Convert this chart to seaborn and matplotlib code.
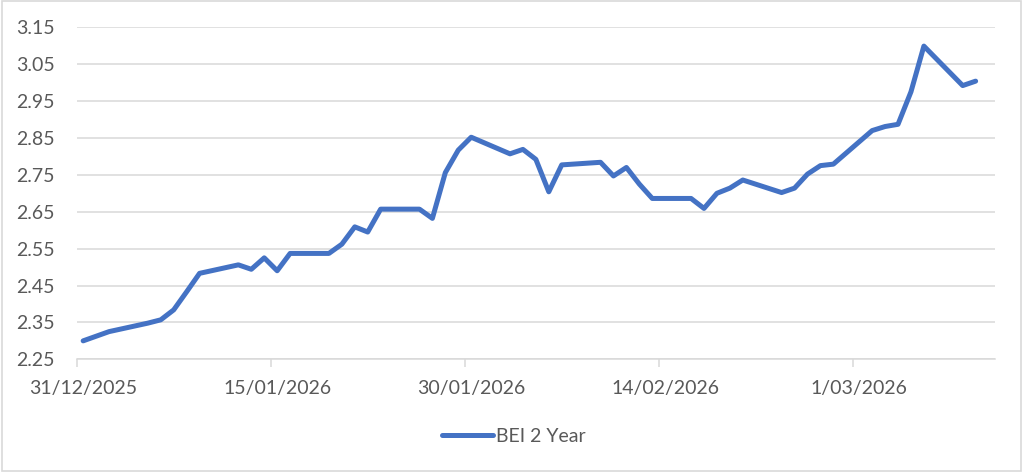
import pandas as pd
import seaborn as sns
import matplotlib.pyplot as plt
import matplotlib.dates as mdates
from matplotlib.patches import Rectangle

# BEI 2 Year
dates = [
    "2025-12-31", "2026-01-02", "2026-01-05", "2026-01-06", "2026-01-07",
    "2026-01-08", "2026-01-09", "2026-01-12", "2026-01-13", "2026-01-14",
    "2026-01-15", "2026-01-16", "2026-01-19", "2026-01-20", "2026-01-21",
    "2026-01-22", "2026-01-23", "2026-01-26", "2026-01-27", "2026-01-28",
    "2026-01-29", "2026-01-30", "2026-02-02", "2026-02-03", "2026-02-04",
    "2026-02-05", "2026-02-06", "2026-02-09", "2026-02-10", "2026-02-11",
    "2026-02-12", "2026-02-13", "2026-02-16", "2026-02-17", "2026-02-18",
    "2026-02-19", "2026-02-20", "2026-02-23", "2026-02-24", "2026-02-25",
    "2026-02-26", "2026-02-27", "2026-03-02", "2026-03-03", "2026-03-04",
    "2026-03-05", "2026-03-06", "2026-03-09", "2026-03-10",
]
bei_2y = [
    2.300, 2.325, 2.348, 2.357, 2.384,
    2.433, 2.483, 2.506, 2.494, 2.525,
    2.490, 2.537, 2.537, 2.562, 2.609,
    2.595, 2.657, 2.657, 2.632, 2.756,
    2.817, 2.852, 2.807, 2.819, 2.792,
    2.704, 2.777, 2.784, 2.747, 2.770,
    2.725, 2.686, 2.686, 2.659, 2.700,
    2.714, 2.736, 2.702, 2.714, 2.752,
    2.775, 2.779, 2.870, 2.881, 2.887,
    2.975, 3.099, 2.992, 3.004,
]
tick_dates = ["2025-12-31", "2026-01-15", "2026-01-30", "2026-02-14", "2026-03-01"]
tick_labels = ["31/12/2025", "15/01/2026", "30/01/2026", "14/02/2026", "1/03/2026"]
y_ticks = [2.25, 2.35, 2.45, 2.55, 2.65, 2.75, 2.85, 2.95, 3.05, 3.15]
series_name = "BEI 2 Year"

sns.set_theme(style="white")
plt.rcParams['font.family'] = ['Lato', 'DejaVu Sans']

TXT = "#595959"
GRID = "#d9d9d9"

# excel date axis: each day is a slot, the point sits in the middle of it
df = pd.DataFrame({"date": pd.to_datetime(dates) + pd.Timedelta(hours=12),
                   "value": bei_2y})
ticks = pd.to_datetime(tick_dates)

fig = plt.figure(figsize=(10.24, 4.73), dpi=100)
ax = fig.add_axes([0.0749, 0.2404, 0.8968, 0.7019])

sns.lineplot(data=df, x="date", y="value", ax=ax, color="#4472C4",
             linewidth=3.6, label=series_name, legend=False,
             solid_capstyle="round", solid_joinstyle="round")

ax.set_xlim(pd.Timestamp("2025-12-31"), pd.Timestamp("2026-03-12"))
ax.set_ylim(2.25, 3.15)
ax.set_yticks(y_ticks)
ax.set_yticklabels([f"{v:.2f}" for v in y_ticks])
ax.yaxis.grid(True, color=GRID, linewidth=1.1)
ax.set_axisbelow(True)

# tick marks at slot edges, labels at slot centres
ax.set_xticks(mdates.date2num(ticks))
ax.set_xticklabels([])
ax.set_xticks(mdates.date2num(ticks + pd.Timedelta(hours=12)), minor=True)
ax.set_xticklabels(tick_labels, minor=True)
ax.tick_params(axis="x", which="major", length=6, width=1.1, color=GRID,
               direction="out", bottom=True)
ax.tick_params(axis="x", which="minor", length=0, pad=15, labelsize=14,
               labelcolor=TXT, bottom=True)
ax.tick_params(axis="y", length=0, pad=16, labelsize=14, labelcolor=TXT)

for side in ["top", "right", "left"]:
    ax.spines[side].set_visible(False)
ax.spines["bottom"].set_color(GRID)
ax.spines["bottom"].set_linewidth(1.1)

ax.set_xlabel("")
ax.set_ylabel("")

handles, labels = ax.get_legend_handles_labels()
fig.legend(handles, labels, loc="center", bbox_to_anchor=(0.502, 0.078),
           frameon=False, fontsize=14, labelcolor=TXT, handlelength=2.6,
           handletextpad=0.2)

# chart border
fig.patches.append(Rectangle((0.0015, 0.004), 0.996, 0.993,
                             transform=fig.transFigure, fill=False,
                             edgecolor=GRID, linewidth=1.2))

fig.savefig("out.png", dpi=100)
